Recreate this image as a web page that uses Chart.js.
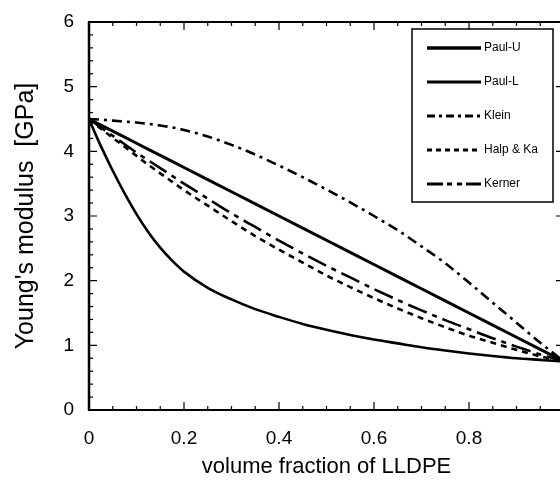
<!DOCTYPE html>
<html>
<head>
<meta charset="utf-8">
<script src="https://cdn.jsdelivr.net/npm/chart.js@4"></script>
<style>
  body { margin: 0; background: #fff; }
  #wrap { width: 560px; height: 480px; overflow: hidden; }
</style>
</head>
<body>
<div id="wrap"><canvas id="modulusChart" width="572" height="480"></canvas></div>
<script>
// Datos
const volFraction = [0, 0.025, 0.05, 0.075, 0.1, 0.125, 0.15, 0.175, 0.2, 0.25, 0.3, 0.35, 0.4, 0.45, 0.5, 0.55, 0.6, 0.65, 0.7, 0.75, 0.8, 0.85, 0.9, 0.95, 1];
const paulU = [4.5, 4.406, 4.313, 4.219, 4.125, 4.031, 3.938, 3.844, 3.75, 3.563, 3.375, 3.188, 3.0, 2.813, 2.625, 2.438, 2.25, 2.063, 1.875, 1.688, 1.5, 1.313, 1.125, 0.938, 0.75];
const paulL = [4.5, 4.08, 3.7, 3.35, 3.03, 2.75, 2.51, 2.31, 2.14, 1.89, 1.71, 1.56, 1.44, 1.33, 1.24, 1.16, 1.09, 1.03, 0.97, 0.92, 0.875, 0.835, 0.8, 0.775, 0.75];
const klein = [4.5, 4.49, 4.475, 4.46, 4.445, 4.425, 4.4, 4.37, 4.33, 4.23, 4.1, 3.95, 3.78, 3.6, 3.41, 3.21, 3.0, 2.78, 2.53, 2.27, 1.97, 1.66, 1.35, 1.04, 0.75];
const halpKa = [4.5, 4.35, 4.21, 4.07, 3.93, 3.79, 3.66, 3.53, 3.4, 3.16, 2.92, 2.69, 2.48, 2.28, 2.08, 1.9, 1.73, 1.57, 1.42, 1.28, 1.15, 1.04, 0.93, 0.83, 0.75];
const kerner = [4.5, 4.37, 4.24, 4.11, 3.98, 3.86, 3.74, 3.62, 3.5, 3.27, 3.04, 2.83, 2.62, 2.42, 2.23, 2.05, 1.87, 1.7, 1.54, 1.39, 1.25, 1.11, 0.98, 0.86, 0.75];

const seriesNames = ["Paul-U", "Paul-L", "Klein", "Halp & Ka", "Kerner"];
const xTickStep = 0.2;
const yTickStep = 1;

const toPoints = (ys) => volFraction.map((x, i) => ({ x, y: ys[i] }));

const FONT = "'Liberation Sans', Arial, Helvetica, sans-serif";

// Ticks interiores + marco
const frameTicks = {
  id: "frameTicks",
  afterDatasetsDraw(chart) {
    const { ctx, chartArea: a, scales } = chart;
    ctx.save();
    ctx.strokeStyle = "#000";
    ctx.lineWidth = 1.2;
    for (let i = 0; i <= 20; i++) {
      const v = i * 0.05;
      const px = scales.x.getPixelForValue(v);
      const len = i % 4 === 0 ? 8 : 4;
      ctx.beginPath();
      ctx.moveTo(px, a.bottom); ctx.lineTo(px, a.bottom - len);
      ctx.moveTo(px, a.top); ctx.lineTo(px, a.top + len);
      ctx.stroke();
    }
    for (let i = 0; i <= 30; i++) {
      const v = i * 0.2;
      const py = scales.y.getPixelForValue(v);
      const major = i % 5 === 0;
      const len = major ? 8 : 4;
      ctx.beginPath();
      ctx.moveTo(a.left, py); ctx.lineTo(a.left + len, py);
      if (major) { ctx.moveTo(a.right, py); ctx.lineTo(a.right - len, py); }
      ctx.stroke();
    }
    ctx.lineWidth = 2;
    ctx.strokeRect(a.left, a.top, a.right - a.left, a.bottom - a.top);
    ctx.lineWidth = 2.5;
    ctx.beginPath();
    ctx.moveTo(a.left, a.top); ctx.lineTo(a.left, a.bottom);
    ctx.stroke();
    ctx.restore();
  },
};

// Leyenda con recuadro
const boxLegend = {
  id: "boxLegend",
  afterDraw(chart, args, opts) {
    const { ctx } = chart;
    ctx.save();
    ctx.fillStyle = "#fff";
    ctx.fillRect(opts.x, opts.y, opts.w, opts.h);
    ctx.strokeStyle = "#000";
    ctx.lineWidth = 1.5;
    ctx.strokeRect(opts.x, opts.y, opts.w, opts.h);
    ctx.font = "12px " + FONT;
    ctx.textBaseline = "middle";
    ctx.fillStyle = "#000";
    chart.data.datasets.forEach((ds, i) => {
      const y = opts.y + opts.firstRow + i * opts.rowGap;
      ctx.setLineDash(ds.legendDash || ds.borderDash || []);
      ctx.lineWidth = ds.borderWidth + 0.5;
      ctx.lineCap = "butt";
      ctx.beginPath();
      ctx.moveTo(opts.x + 15, y);
      ctx.lineTo(opts.x + 69, y);
      ctx.stroke();
      ctx.setLineDash([]);
      ctx.fillText(ds.label, opts.x + 72, y);
    });
    ctx.restore();
  },
};

const commonLine = {
  borderColor: "#000",
  backgroundColor: "#000",
  fill: false,
  pointRadius: 0,
  showLine: true,
  cubicInterpolationMode: "monotone",
};

const ctx = document.getElementById("modulusChart").getContext("2d");

new Chart(ctx, {
  type: "scatter",
  data: {
    datasets: [
      { ...commonLine, label: seriesNames[0], data: toPoints(paulU), borderWidth: 3, cubicInterpolationMode: "default", tension: 0 },
      { ...commonLine, label: seriesNames[1], data: toPoints(paulL), borderWidth: 2.6 },
      { ...commonLine, label: seriesNames[2], data: toPoints(klein), borderWidth: 2.6, borderDash: [10, 5, 3, 5], legendDash: [8, 4, 3, 4] },
      { ...commonLine, label: seriesNames[3], data: toPoints(halpKa), borderWidth: 2.6, borderDash: [6, 5], legendDash: [5, 4] },
      { ...commonLine, label: seriesNames[4], data: toPoints(kerner), borderWidth: 2.6, borderDash: [20, 6, 5, 6], legendDash: [16, 4, 5, 5, 5, 4] },
    ],
  },
  options: {
    responsive: false,
    animation: false,
    layout: { padding: { top: 22, right: 8, left: 0, bottom: 0 } },
    scales: {
      x: {
        type: "linear",
        min: 0,
        max: 1,
        grid: { display: false, drawTicks: false },
        border: { display: false },
        ticks: { stepSize: xTickStep, color: "#000", padding: 17, font: { family: FONT, size: 19 }, callback: (v) => String(v) },
        title: { display: true, text: "volume fraction of LLDPE", color: "#000", padding: { top: 0, bottom: 0 }, font: { family: FONT, size: 22 } },
        afterFit: (s) => { s.height = 70; s.paddingLeft = 0; s.paddingRight = 0; },
      },
      y: {
        min: 0,
        max: 6,
        grid: { display: false, drawTicks: false },
        border: { display: false },
        ticks: { stepSize: yTickStep, color: "#000", padding: 15, font: { family: FONT, size: 19 } },
        title: { display: true, text: "Young's modulus  [GPa]", color: "#000", padding: { top: 11, bottom: 0 }, font: { family: FONT, size: 25 } },
        afterFit: (s) => { s.width = 89; s.paddingTop = 0; s.paddingBottom = 0; },
      },
    },
    plugins: {
      legend: { display: false },
      tooltip: { enabled: false },
      boxLegend: { x: 412, y: 29, w: 141, h: 173, firstRow: 19, rowGap: 34 },
    },
  },
  plugins: [frameTicks, boxLegend],
});
</script>
</body>
</html>
